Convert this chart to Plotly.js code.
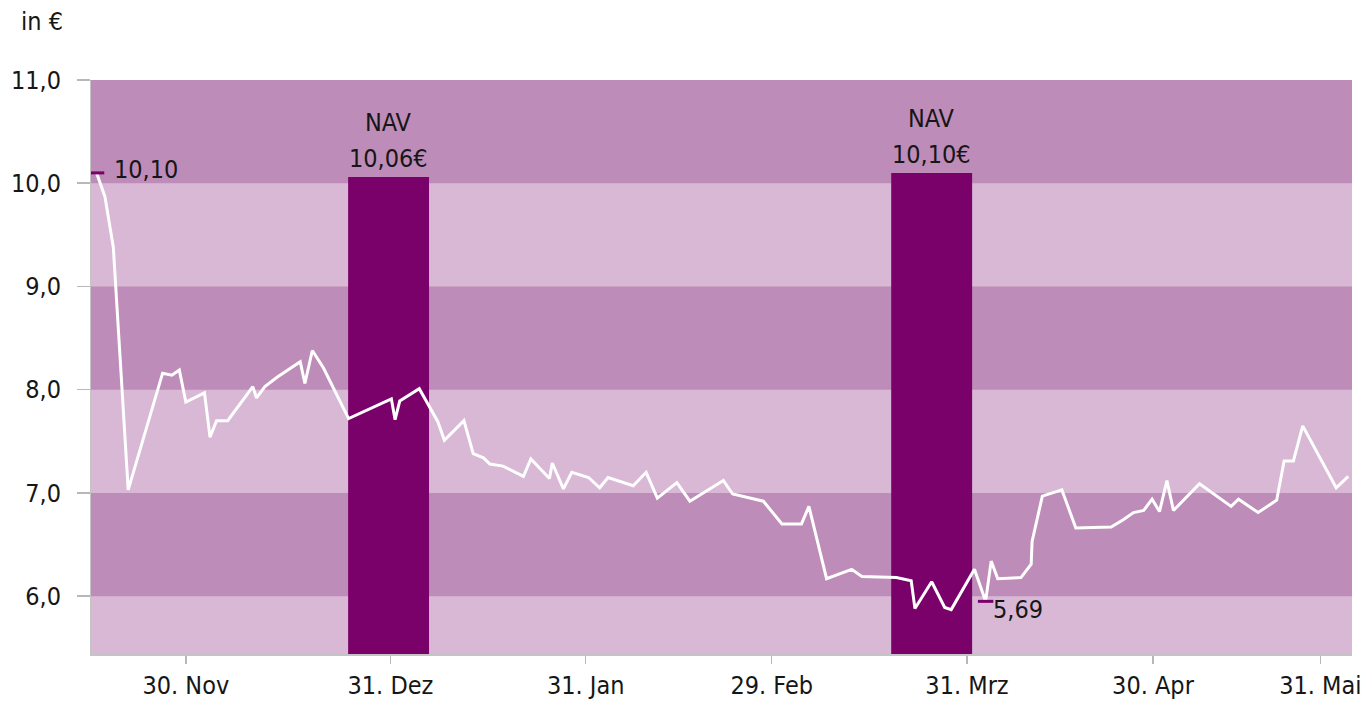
<!DOCTYPE html>
<html>
<head>
<meta charset="utf-8">
<script src="https://cdn.plot.ly/plotly-3.0.1.min.js"></script>
<style>
  html, body { margin: 0; padding: 0; background: #ffffff; }
  #chart { width: 1372px; height: 704px; }
</style>
</head>
<body>
<div id="chart"></div>
<script>
// Trading-session position (0 = 30 Nov) and closing price in €
const session = [
  -9.6, -8.7, -7.8, -6.2, -2.5, -1.5, -0.7, 0.0, 2.0, 2.6,
  3.3, 4.5, 7.2, 7.6, 8.5, 9.8, 12.3, 12.8, 13.6, 14.8,
  17.5, 22.1, 22.5, 23.0, 25.1, 27.1, 27.8, 29.9, 30.9, 32.0,
  32.7, 34.1, 36.3, 37.1, 39.1, 39.4, 40.6, 41.5, 43.3, 44.5,
  45.4, 48.1, 49.5, 50.7, 52.8, 54.2, 57.8, 58.8, 62.1, 64.1,
  66.2, 67.0, 68.9, 71.6, 72.7, 76.4, 78.0, 78.4, 80.2, 81.6,
  82.3, 84.8, 86.0, 86.6, 87.3, 89.8, 90.9, 91.0, 92.1, 94.2,
  95.7, 99.5, 100.8, 101.9, 103.0, 103.9, 104.7, 105.5, 106.2, 109.0,
  112.4, 113.2, 115.3, 117.3, 118.1, 119.1, 120.1, 123.7, 125.0
];
const price = [
  10.10, 9.87, 9.38, 7.03, 8.16, 8.14, 8.19, 7.88, 7.97, 7.54,
  7.70, 7.70, 8.03, 7.92, 8.03, 8.12, 8.27, 8.06, 8.38, 8.21,
  7.72, 7.91, 7.71, 7.89, 8.01, 7.69, 7.51, 7.70, 7.38, 7.34,
  7.28, 7.26, 7.16, 7.33, 7.14, 7.29, 7.04, 7.20, 7.15, 7.05,
  7.15, 7.07, 7.20, 6.95, 7.10, 6.92, 7.12, 6.99, 6.92, 6.70,
  6.70, 6.87, 6.17, 6.26, 6.19, 6.18, 6.15, 5.88, 6.14, 5.89,
  5.87, 6.26, 5.95, 6.34, 6.17, 6.18, 6.31, 6.53, 6.97, 7.03,
  6.66, 6.67, 6.74, 6.81, 6.83, 6.94, 6.82, 7.12, 6.83, 7.09,
  6.87, 6.94, 6.81, 6.93, 7.31, 7.31, 7.65, 7.05, 7.16
];

// Month-end ticks
const tickSession = [0, 22, 43, 63, 84, 104, 122];
const tickLabels = ['30. Nov', '31. Dez', '31. Jan', '29. Feb', '31. Mrz', '30. Apr', '31. Mai'];

// Published net asset values
const navSession = [21.8, 80.2];
const navValue = [10.06, 10.10];

// Quotes highlighted on the line: issue price and the period low
const markIndex = [0, 62];
const lowQuote = 5.69;

// Price levels for the y axis
const yLevels = [6, 7, 8, 9, 10, 11];

const FONT = 'DejaVu Sans Condensed, DejaVu Sans, sans-serif';
const TEXT = '#161616';
const DARK_BAND = '#BE8CB8';
const LIGHT_BAND = '#D8B8D5';
const NAV_COLOR = '#7A006A';

const de = (v, d) => v.toFixed(d).replace('.', ',');

// Alternating horizontal bands: darker between 6–7, 8–9 and 10–11
const bands = [];
for (let i = 0; i + 1 < yLevels.length; i += 2) {
  bands.push({
    type: 'rect', layer: 'below', xref: 'paper', yref: 'y',
    x0: 0, x1: 1, y0: yLevels[i], y1: yLevels[i + 1],
    fillcolor: DARK_BAND, line: { width: 0 }
  });
}

const navBars = {
  type: 'bar',
  x: navSession,
  y: navValue,
  width: 8.7,
  marker: { color: NAV_COLOR, line: { width: 0 } },
  hoverinfo: 'skip'
};

const priceLine = {
  type: 'scatter',
  mode: 'lines',
  x: session,
  y: price,
  line: { color: '#ffffff', width: 3 },
  hoverinfo: 'skip'
};

const marks = {
  type: 'scatter',
  mode: 'markers',
  x: markIndex.map(i => session[i]),
  y: markIndex.map(i => price[i]),
  marker: { symbol: 'line-ew', size: 11, line: { width: 3, color: NAV_COLOR } },
  hoverinfo: 'skip'
};

const labelFont = { family: FONT, size: 25, color: TEXT };

const annotations = [
  {
    xref: 'paper', yref: 'paper', x: -0.057, y: 1.102,
    xanchor: 'left', yanchor: 'middle', showarrow: false,
    text: 'in €', font: labelFont
  },
  {
    x: session[markIndex[0]], y: price[markIndex[0]],
    xanchor: 'left', yanchor: 'middle', xshift: 15, yshift: 3, showarrow: false,
    text: de(price[markIndex[0]], 2), font: labelFont
  },
  {
    x: session[markIndex[1]], y: price[markIndex[1]],
    xanchor: 'left', yanchor: 'middle', xshift: 5, yshift: -8, showarrow: false,
    text: de(lowQuote, 2), font: labelFont
  }
];
navSession.forEach((s, i) => {
  // value line right above the bar, "NAV" one line higher
  annotations.push({
    x: s, y: navValue[i], xanchor: 'center', yanchor: 'bottom', yshift: 2,
    showarrow: false, text: de(navValue[i], 2) + '€', font: labelFont
  });
  annotations.push({
    x: s, y: navValue[i], xanchor: 'center', yanchor: 'bottom', yshift: 38,
    showarrow: false, text: 'NAV', font: labelFont
  });
});

const layout = {
  width: 1372,
  height: 704,
  margin: { l: 91, r: 20, t: 80, b: 50 },
  paper_bgcolor: '#ffffff',
  plot_bgcolor: LIGHT_BAND,
  separators: ',.',
  showlegend: false,
  hovermode: false,
  font: labelFont,
  xaxis: {
    range: [-10.2, 125.4],
    tickmode: 'array',
    tickvals: tickSession,
    ticktext: tickLabels,
    ticks: 'outside', ticklen: 8, tickwidth: 1.5, tickcolor: '#b8b8b8',
    showline: true, linecolor: '#c4c4c4', linewidth: 1.5,
    showgrid: false, zeroline: false,
    tickfont: labelFont
  },
  yaxis: {
    range: [5.44, 11.0],
    tickmode: 'array',
    tickvals: yLevels,
    tickformat: '.1f',
    ticks: 'outside', ticklen: 13, tickwidth: 1.5, tickcolor: '#b8b8b8',
    ticklabelstandoff: 11,
    showline: true, linecolor: '#c4c4c4', linewidth: 1,
    showgrid: false, zeroline: false,
    tickfont: labelFont
  },
  shapes: bands,
  annotations: annotations
};

Plotly.newPlot('chart', [navBars, priceLine, marks], layout, { staticPlot: true, displayModeBar: false });
</script>
</body>
</html>
